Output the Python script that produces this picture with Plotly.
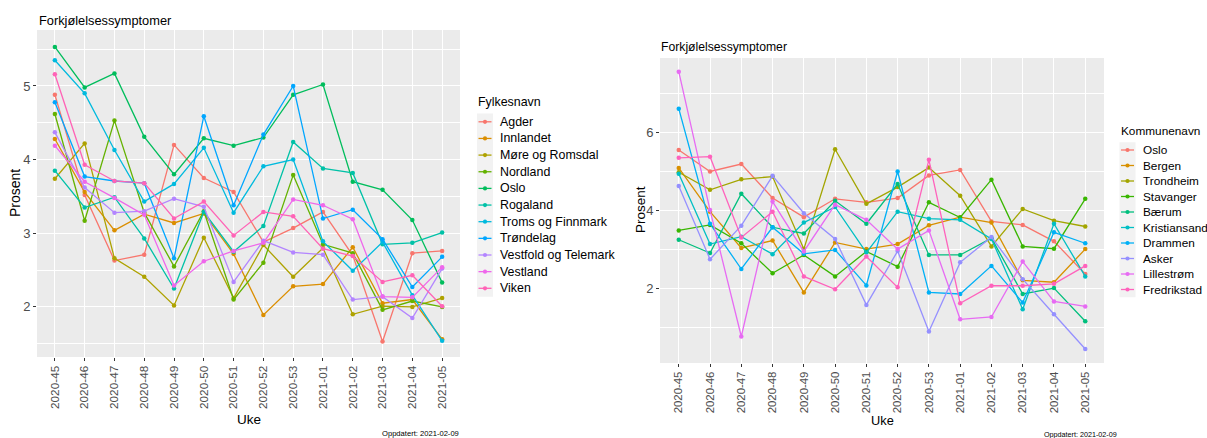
import plotly.graph_objects as go

W, H = 1207, 438

weeks = ["2020-45", "2020-46", "2020-47", "2020-48", "2020-49", "2020-50", "2020-51",
         "2020-52", "2020-53", "2021-01", "2021-02", "2021-03", "2021-04", "2021-05"]

# ---- Left chart: fylker ----
fylke_names = ["Agder", "Innlandet", "Møre og Romsdal", "Nordland", "Oslo", "Rogaland",
               "Troms og Finnmark", "Trøndelag", "Vestfold og Telemark", "Vestland", "Viken"]
fylke_colors = ["#F8766D", "#DB8E00", "#AEA200", "#64B200", "#00BD5C", "#00C1A7",
                "#00BADE", "#00A6FF", "#B385FF", "#EF67EB", "#FF63B6"]

agder = [4.88, 3.52, 2.63, 2.71, 4.20, 3.75, 3.56, 2.88, 3.07, 3.29, 2.70, 1.53, 2.73, 2.76]
innlandet = [4.28, 3.56, 3.04, 3.26, 3.14, 3.27, 2.72, 1.89, 2.28, 2.31, 2.81, 2.05, 2.10, 1.56]
more_romsdal = [3.74, 4.22, 2.66, 2.41, 2.02, 2.94, 2.12, 2.84, 2.41, 2.80, 1.90, 2.01, 2.00, 2.12]
nordland = [4.62, 3.17, 4.53, 3.28, 2.55, 3.30, 2.10, 2.60, 3.79, 2.85, 2.73, 1.96, 2.08, 2.00]
oslo_f = [5.53, 4.98, 5.17, 4.31, 3.80, 4.29, 4.19, 4.30, 4.88, 5.02, 3.70, 3.59, 3.18, 2.33]
rogaland = [3.85, 3.35, 3.49, 2.93, 2.25, 3.29, 2.75, 3.10, 4.24, 3.88, 3.82, 2.85, 2.87, 3.01]
troms_finnmark = [5.35, 4.90, 4.13, 3.43, 3.67, 4.16, 3.28, 3.91, 4.00, 2.89, 2.49, 2.88, 2.16, 1.54]
trondelag = [4.78, 3.77, 3.71, 3.68, 2.66, 4.59, 3.38, 4.34, 5.00, 3.20, 3.32, 2.92, 2.27, 2.68]
vestfold_telemark = [4.37, 3.62, 3.28, 3.30, 3.47, 3.36, 2.34, 2.90, 2.74, 2.71, 2.10, 2.14, 1.85, 2.52]
vestland = [4.19, 3.70, 3.48, 3.25, 2.29, 2.62, 2.76, 2.87, 3.46, 3.38, 3.19, 2.14, 2.13, 2.54]
viken = [5.16, 3.93, 3.71, 3.68, 3.20, 3.43, 2.97, 3.29, 3.23, 2.79, 2.69, 2.34, 2.43, 2.01]

fylke_series = [agder, innlandet, more_romsdal, nordland, oslo_f, rogaland,
                troms_finnmark, trondelag, vestfold_telemark, vestland, viken]

# ---- Right chart: kommuner ----
kommune_names = ["Oslo", "Bergen", "Trondheim", "Stavanger", "Bærum", "Kristiansand",
                 "Drammen", "Asker", "Lillestrøm", "Fredrikstad"]
kommune_colors = ["#F8766D", "#D89000", "#A3A500", "#39B600", "#00BF7D", "#00BFC4",
                  "#00B0F6", "#9590FF", "#E76BF3", "#FF62BC"]

oslo_k = [5.54, 4.99, 5.18, 4.31, 3.82, 4.29, 4.20, 4.31, 4.89, 5.03, 3.71, 3.62, 3.20, 2.36]
bergen = [5.08, 3.96, 3.03, 3.22, 1.89, 3.17, 3.00, 3.13, 3.61, 3.82, 3.68, 2.20, 2.15, 3.00]
trondheim = [4.97, 4.52, 4.79, 4.86, 3.00, 5.56, 4.16, 4.59, 5.09, 4.37, 3.07, 4.03, 3.73, 3.58]
stavanger = [3.48, 3.62, 3.15, 2.38, 2.85, 2.30, 2.94, 2.55, 4.20, 3.81, 4.78, 3.07, 3.01, 4.29]
baerum = [3.24, 2.90, 4.42, 3.56, 3.40, 4.24, 3.65, 4.67, 2.85, 2.85, 3.28, 1.85, 2.00, 1.15]
kristiansand = [4.93, 3.13, 3.32, 2.87, 3.68, 4.08, 2.91, 3.96, 3.78, 3.75, 3.26, 1.46, 3.65, 2.30]
drammen = [6.60, 3.65, 2.49, 3.56, 2.88, 2.98, 2.07, 4.99, 1.89, 1.85, 2.57, 1.63, 3.43, 3.15]
asker = [4.62, 2.74, 3.60, 4.88, 3.92, 3.26, 1.57, 2.95, 0.89, 2.66, 3.31, 2.23, 1.33, 0.44]
lillestrom = [7.55, 4.00, 0.76, 4.22, 2.94, 4.14, 3.75, 3.00, 3.48, 1.20, 1.26, 2.68, 1.66, 1.53]
fredrikstad = [5.34, 5.37, 3.30, 3.96, 2.30, 1.97, 2.81, 2.02, 5.29, 1.61, 2.06, 2.06, 2.11, 2.57]

kommune_series = [oslo_k, bergen, trondheim, stavanger, baerum, kristiansand,
                  drammen, asker, lillestrom, fredrikstad]

FONT = "Liberation Sans, Arial, sans-serif"


def px(x):
    return x / W


def py(y):
    return 1 - y / H


fig = go.Figure()

for name, vals, col in zip(fylke_names, fylke_series, fylke_colors):
    fig.add_trace(go.Scatter(x=weeks, y=vals, name=name, mode="lines+markers",
                             line=dict(color=col, width=1.3),
                             marker=dict(color=col, size=4.5),
                             xaxis="x", yaxis="y", showlegend=False))

for name, vals, col in zip(kommune_names, kommune_series, kommune_colors):
    fig.add_trace(go.Scatter(x=weeks, y=vals, name=name, mode="lines+markers",
                             line=dict(color=col, width=1.3),
                             marker=dict(color=col, size=4.5),
                             xaxis="x2", yaxis="y2", showlegend=False))


def x_axis(left, right, tsize):
    return dict(domain=[px(left), px(right)], type="category", range=[-0.6, 13.6],
                tickangle=-90, ticks="outside", ticklen=3, tickcolor="#333333", tickwidth=1,
                tickfont=dict(family=FONT, size=tsize, color="#4D4D4D"),
                showgrid=True, gridcolor="white", gridwidth=1.1,
                zeroline=False, showline=False, fixedrange=True)


common_y = dict(ticks="outside", ticklen=3, tickcolor="#333333", tickwidth=1,
                tickfont=dict(family=FONT, size=13, color="#4D4D4D"),
                showgrid=True, gridcolor="white", gridwidth=1.1,
                zeroline=False, showline=False, fixedrange=True)

fig.update_layout(
    width=W, height=H,
    margin=dict(l=0, r=0, t=0, b=0),
    paper_bgcolor="white", plot_bgcolor="#EBEBEB",
    font=dict(family=FONT, size=13, color="black"),
    showlegend=False,
    xaxis=dict(anchor="y", **x_axis(37, 460, 11.8)),
    yaxis=dict(domain=[py(357), py(30)], anchor="x", range=[1.32, 5.76], dtick=1, tick0=0,
               minor=dict(dtick=0.5, tick0=0, showgrid=True, gridcolor="white",
                          gridwidth=0.5, ticks=""),
               **common_y),
    xaxis2=dict(anchor="y2", **x_axis(660, 1104, 11.4)),
    yaxis2=dict(domain=[py(363), py(58)], anchor="x2", range=[0.08, 7.9], dtick=2, tick0=0,
                minor=dict(dtick=1, tick0=0, showgrid=True, gridcolor="white",
                           gridwidth=0.5, ticks=""),
                **common_y),
)

annots = [
    dict(text="Forkjølelsessymptomer", x=px(37), y=py(20), xanchor="left", yanchor="middle",
         font=dict(size=12.8)),
    dict(text="Forkjølelsessymptomer", x=px(659), y=py(47), xanchor="left", yanchor="middle",
         font=dict(size=12.2)),
    dict(text="Uke", x=px(249), y=py(419), xanchor="center", yanchor="middle",
         font=dict(size=13.5)),
    dict(text="Uke", x=px(882), y=py(420), xanchor="center", yanchor="middle",
         font=dict(size=12.8)),
    dict(text="Prosent", x=px(15), y=py(193), xanchor="center", yanchor="middle",
         textangle=-90, font=dict(size=14)),
    dict(text="Prosent", x=px(641), y=py(210), xanchor="center", yanchor="middle",
         textangle=-90, font=dict(size=13.5)),
    dict(text="Oppdatert: 2021-02-09", x=px(461), y=py(433), xanchor="right", yanchor="middle",
         font=dict(size=7.6)),
    dict(text="Oppdatert: 2021-02-09", x=px(1119), y=py(434), xanchor="right", yanchor="middle",
         font=dict(size=7.2)),
]

shapes = []


def build_legend(title, names, colors, left, title_y, first_y, step, fsize):
    # ggplot-style legend: title, grey key column, line+point keys, labels
    annots.append(dict(text=title, x=px(left - 1), y=py(title_y), xanchor="left",
                       yanchor="middle", font=dict(size=fsize)))
    key_w = 16
    shapes.append(dict(type="rect", xref="paper", yref="paper",
                       x0=px(left), x1=px(left + key_w),
                       y0=py(first_y + step * (len(names) - 0.5)), y1=py(first_y - step / 2),
                       fillcolor="#F2F2F2", line=dict(width=0), layer="below"))
    for i, (nm, col) in enumerate(zip(names, colors)):
        yc = first_y + step * i
        shapes.append(dict(type="line", xref="paper", yref="paper",
                           x0=px(left + 1.5), x1=px(left + key_w - 1.5), y0=py(yc), y1=py(yc),
                           line=dict(color=col, width=1.3)))
        r = 2.1
        xc = left + key_w / 2
        shapes.append(dict(type="circle", xref="paper", yref="paper",
                           x0=px(xc - r), x1=px(xc + r), y0=py(yc + r), y1=py(yc - r),
                           fillcolor=col, line=dict(width=0)))
        annots.append(dict(text=nm, x=px(left + key_w + 5), y=py(yc), xanchor="left",
                           yanchor="middle", font=dict(size=fsize)))


build_legend("Fylkesnavn", fylke_names, fylke_colors, 477, 101.5, 121.8, 16.65, 12.4)
build_legend("Kommunenavn", kommune_names, kommune_colors, 1119.5, 131, 150, 15.5, 11.8)

for a in annots:
    a.update(xref="paper", yref="paper", showarrow=False)
    a["font"] = dict(family=FONT, color="black", **a["font"])
fig.update_layout(annotations=annots, shapes=shapes)

fig.write_html("out.html")
